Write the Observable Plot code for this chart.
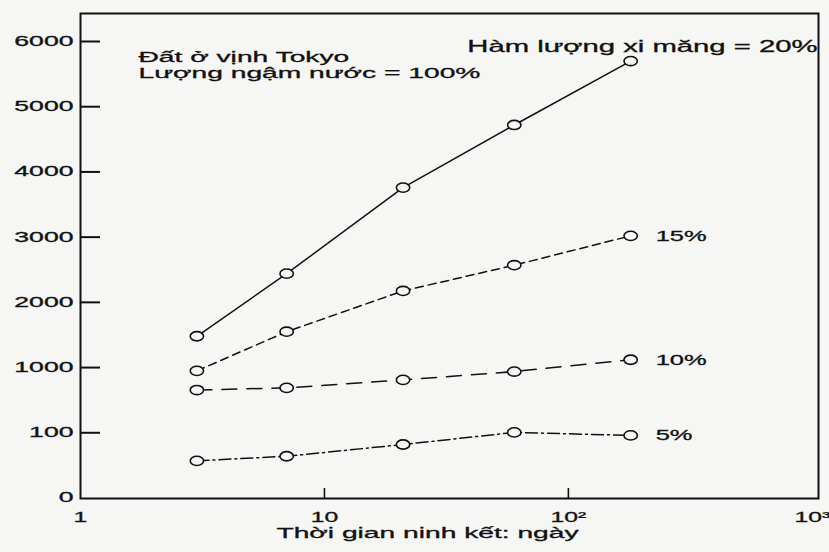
<!DOCTYPE html>
<html>
<head>
<meta charset="utf-8">
<script src="https://cdn.jsdelivr.net/npm/d3@7"></script>
<script src="https://cdn.jsdelivr.net/npm/@observablehq/plot@0.6"></script>
<style>
  html, body { margin: 0; padding: 0; background: #f6f6f4; }
  #chart svg { display: block; }
</style>
</head>
<body>
<div id="chart"></div>
<script>
// Curing time (days) on a log axis
const days = [3, 7, 21, 60, 180];

// Strength values for each cement content
const cement20 = [1480, 2440, 3760, 4720, 5700];
const cement15 = [955, 1550, 2175, 2570, 3020];
const cement10 = [690, 720, 830, 945, 1120];
const cement5  = [57, 64, 82, 105, 96];

const seriesNames = ["20%", "15%", "10%", "5%"];

// Axis ticks (the y axis is drawn with equally spaced, non-uniform steps)
const yTicks = [0, 100, 1000, 2000, 3000, 4000, 5000, 6000];
const xTicks = [1, 10, 100, 1000];
const xTickLabels = ["1", "10", "10²", "10³"];
const xInnerTicks = [10, 100];

// Text
const soilNote = "Đất ở vịnh Tokyo\nLượng ngậm nước = 100%";
const topSeriesNote = "Hàm lượng xi măng = 20%";
const xTitle = "Thời gian ninh kết: ngày";

const ink = "#111";
const paper = "#f6f6f4";
const font = "Liberation Sans, Arial, sans-serif";

const valuesBySeries = [cement20, cement15, cement10, cement5];
const dashes = [null, "8,5", "15,10", "12,4,2,4"];

const rows = seriesNames.flatMap((name, s) =>
  days.map((day, i) => ({day, value: valuesBySeries[s][i], series: name}))
);
const lastPoints = seriesNames.slice(1).map(name =>
  rows.filter(r => r.series === name).at(-1)
);

// Open, slightly wide ring used for the data points
const ring = {
  draw(ctx, size) {
    const ry = Math.sqrt(size / Math.PI), rx = ry * 1.45, k = 0.5523;
    ctx.moveTo(rx, 0);
    ctx.bezierCurveTo(rx, ry * k, rx * k, ry, 0, ry);
    ctx.bezierCurveTo(-rx * k, ry, -rx, ry * k, -rx, 0);
    ctx.bezierCurveTo(-rx, -ry * k, -rx * k, -ry, 0, -ry);
    ctx.bezierCurveTo(rx * k, -ry, rx, -ry * k, rx, 0);
    ctx.closePath();
  }
};

const width = 829, height = 552;
const marginTop = 13, marginBottom = 54, marginLeft = 80, marginRight = 11;
const frameW = width - marginLeft - marginRight;
const frameH = height - marginTop - marginBottom;
const yBottom = height - marginBottom - 0.5, yTopTick = 41;
const step = (yBottom - yTopTick) / (yTicks.length - 1);

const chart = Plot.plot({
  width, height,
  marginTop, marginBottom, marginLeft, marginRight,
  style: {background: paper, color: ink, fontFamily: font},
  x: {type: "log", domain: [1, 1060]},
  y: {type: "linear", domain: yTicks, range: yTicks.map((_, i) => yBottom - i * step)},
  marks: [
    // inward tick marks along the left and bottom edges
    Plot.tickY(yTicks.slice(1), {y: d => d, insetRight: frameW - 20, stroke: ink, strokeWidth: 2}),
    Plot.tickX(xInnerTicks, {x: d => d, insetTop: frameH - 10, stroke: ink, strokeWidth: 1.6}),
    Plot.frame({stroke: ink, strokeWidth: 2}),
    // tick labels
    Plot.axisY({ticks: yTicks, tickSize: 0, tickPadding: 7, fontSize: 14, tickFormat: d3.format("d"), label: null}),
    Plot.axisX({ticks: xTicks, tickSize: 0, tickPadding: 13, fontSize: 15, tickFormat: d => xTickLabels[xTicks.indexOf(d)], label: null}),
    // series lines
    ...seriesNames.map((name, s) =>
      Plot.line(rows.filter(r => r.series === name), {
        x: "day", y: "value", stroke: ink, strokeWidth: 1.5, strokeDasharray: dashes[s]
      })
    ),
    Plot.dot(rows, {x: "day", y: "value", symbol: ring, r: 4.6, fill: paper, stroke: ink, strokeWidth: 1.6}),
    // series labels at the last point
    Plot.text(lastPoints, {x: "day", y: "value", text: "series", dx: 25, textAnchor: "start", fontSize: 15, fill: ink}),
    Plot.text([topSeriesNote], {text: d => d, frameAnchor: "top-right", textAnchor: "end", lineAnchor: "top", dx: -1, dy: 27, fontSize: 16, fill: ink}),
    Plot.text([soilNote], {text: d => d, frameAnchor: "top-left", textAnchor: "start", lineAnchor: "top", lineHeight: 1.08, dx: 58, dy: 37, fontSize: 15, fill: ink}),
    Plot.text([xTitle], {text: d => d, frameAnchor: "bottom", lineAnchor: "top", dx: -22, dy: 29, fontSize: 15, fill: ink})
  ]
});

// The lettering in this figure is set in a wide, heavy face: stretch glyphs
// horizontally about each label's own anchor point and thicken them a little.
const yLabelSet = new Set(yTicks.map(String));
const xLabelSet = new Set(xTickLabels);
const seriesSet = new Set(seriesNames);
chart.querySelectorAll("text").forEach(t => {
  const s = t.textContent;
  const k = yLabelSet.has(s) ? 1.9
    : xLabelSet.has(s) ? 1.65
    : seriesSet.has(s) ? 1.7
    : s === topSeriesNote ? 1.83
    : 1.88;
  const tf = t.getAttribute("transform") || "";
  t.setAttribute("transform", `${tf} scale(${k},1)`);
  t.setAttribute("stroke", ink);
  t.setAttribute("stroke-width", 0.3);
});

document.getElementById("chart").append(chart);
</script>
</body>
</html>
